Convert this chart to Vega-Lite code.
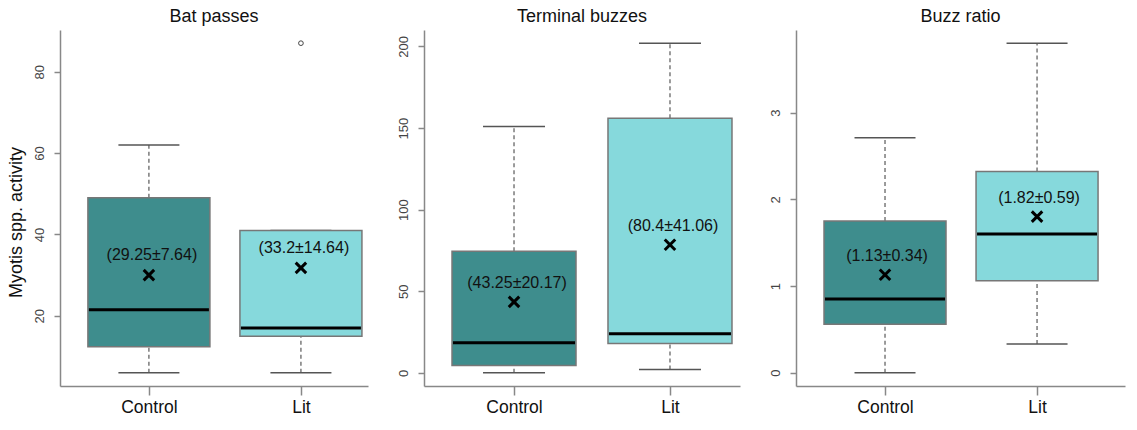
{
  "$schema": "https://vega.github.io/schema/vega-lite/v6.json",
  "padding": {"left": 6, "top": 8, "right": 5, "bottom": 5},
  "spacing": 29,
  "config": {
    "font": "Liberation Sans",
    "view": {"stroke": null},
    "axis": {"grid": false, "domainColor": "#888", "domainWidth": 1.5, "tickColor": "#888", "tickWidth": 1.5, "labelFont": "Liberation Sans", "titleFont": "Liberation Sans"},
    "title": {"font": "Liberation Sans", "fontSize": 18, "fontWeight": "normal", "color": "#111", "offset": 0}
  },
  "datasets": {
    "bat": [
      {"group": "Control", "min": 6, "q1": 12.4, "median": 21.5, "q3": 49, "max": 62, "mean": 30, "label": "(29.25±7.64)"},
      {"group": "Lit", "min": 6, "q1": 15, "median": 17, "q3": 41, "max": 41, "mean": 31.8, "label": "(33.2±14.64)"}
    ],
    "batOut": [
      {"group": "Lit", "value": 87}
    ],
    "buzz": [
      {"group": "Control", "min": 0, "q1": 4.5, "median": 18.5, "q3": 74.5, "max": 151, "mean": 43.5, "label": "(43.25±20.17)"},
      {"group": "Lit", "min": 2, "q1": 18, "median": 24, "q3": 156, "max": 202, "mean": 78.5, "label": "(80.4±41.06)"}
    ],
    "ratio": [
      {"group": "Control", "min": 0, "q1": 0.56, "median": 0.85, "q3": 1.75, "max": 2.71, "mean": 1.13, "label": "(1.13±0.34)"},
      {"group": "Lit", "min": 0.33, "q1": 1.06, "median": 1.6, "q3": 2.32, "max": 3.8, "mean": 1.8, "label": "(1.82±0.59)"}
    ]
  },
  "hconcat": [
    {
      "width": 308, "height": 356,
      "title": {"text": "Bat passes"},
      "encoding": {
        "x": {"field": "group", "type": "nominal", "sort": ["Control", "Lit"],
              "scale": {"type": "point", "padding": 0.513, "align": 0.57},
              "axis": {"title": null, "labelAngle": 0, "labelFontSize": 17.5, "labelColor": "#111", "tickSize": 9, "labelPadding": 3}}
      },
      "layer": [
        {"data": {"name": "bat"}, "mark": {"type": "rule", "color": "#666", "strokeDash": [4, 3], "strokeWidth": 1.3},
         "encoding": {"y": {"field": "q3", "type": "quantitative",
            "scale": {"domain": [2.76, 90.24], "nice": false, "zero": false},
            "axis": {"values": [20, 40, 60, 80], "format": "d", "labelAngle": -90, "labelFontSize": 13, "labelColor": "#444", "tickSize": 6, "labelPadding": 8,
                     "title": "Myotis spp. activity", "titleFontSize": 18, "titleFontWeight": "normal", "titleColor": "#111", "titlePadding": 8, "titleY": 192}},
            "y2": {"field": "max"}}},
        {"data": {"name": "bat"}, "mark": {"type": "rule", "color": "#666", "strokeDash": [4, 3], "strokeWidth": 1.3},
         "encoding": {"y": {"field": "min", "type": "quantitative"}, "y2": {"field": "q1"}}},
        {"data": {"name": "bat"}, "mark": {"type": "tick", "color": "#555", "size": 61, "thickness": 1.5, "opacity": 1},
         "encoding": {"y": {"field": "max", "type": "quantitative"}}},
        {"data": {"name": "bat"}, "mark": {"type": "tick", "color": "#555", "size": 61, "thickness": 1.5, "opacity": 1},
         "encoding": {"y": {"field": "min", "type": "quantitative"}}},
        {"data": {"name": "bat"}, "mark": {"type": "bar", "width": 122, "stroke": "#777", "strokeWidth": 1.5, "opacity": 1},
         "encoding": {"y": {"field": "q1", "type": "quantitative"}, "y2": {"field": "q3"},
            "fill": {"field": "group", "type": "nominal", "scale": {"domain": ["Control", "Lit"], "range": ["#3e8d8d", "#86d9dc"]}, "legend": null}}},
        {"data": {"name": "bat"}, "mark": {"type": "tick", "color": "#000", "size": 120, "thickness": 3, "opacity": 1},
         "encoding": {"y": {"field": "median", "type": "quantitative"}}},
        {"data": {"name": "bat"}, "mark": {"type": "point", "shape": "M-1,-1L1,1M-1,1L1,-1", "filled": false, "stroke": "#000", "strokeWidth": 3, "size": 110, "opacity": 1},
         "encoding": {"y": {"field": "mean", "type": "quantitative"}}},
        {"data": {"name": "bat"}, "mark": {"type": "text", "fontSize": 16, "color": "#111", "dy": -20, "dx": 3},
         "encoding": {"y": {"field": "mean", "type": "quantitative"}, "text": {"field": "label"}}},
        {"data": {"name": "batOut"}, "mark": {"type": "point", "shape": "circle", "filled": false, "stroke": "#444", "strokeWidth": 1, "size": 22, "opacity": 1},
         "encoding": {"y": {"field": "value", "type": "quantitative"}}}
      ]
    },
    {
      "width": 316, "height": 356,
      "title": {"text": "Terminal buzzes"},
      "encoding": {
        "x": {"field": "group", "type": "nominal", "sort": ["Control", "Lit"],
              "scale": {"type": "point", "padding": 0.513, "align": 0.5625},
              "axis": {"title": null, "labelAngle": 0, "labelFontSize": 17.5, "labelColor": "#111", "tickSize": 9, "labelPadding": 3}}
      },
      "layer": [
        {"data": {"name": "buzz"}, "mark": {"type": "rule", "color": "#666", "strokeDash": [4, 3], "strokeWidth": 1.3},
         "encoding": {"y": {"field": "q3", "type": "quantitative",
            "scale": {"domain": [-8.08, 210.08], "nice": false, "zero": false},
            "axis": {"values": [0, 50, 100, 150, 200], "format": "d", "labelAngle": -90, "labelFontSize": 13, "labelColor": "#444", "tickSize": 6, "labelPadding": 8, "title": null}},
            "y2": {"field": "max"}}},
        {"data": {"name": "buzz"}, "mark": {"type": "rule", "color": "#666", "strokeDash": [4, 3], "strokeWidth": 1.3},
         "encoding": {"y": {"field": "min", "type": "quantitative"}, "y2": {"field": "q1"}}},
        {"data": {"name": "buzz"}, "mark": {"type": "tick", "color": "#555", "size": 62, "thickness": 1.5, "opacity": 1},
         "encoding": {"y": {"field": "max", "type": "quantitative"}}},
        {"data": {"name": "buzz"}, "mark": {"type": "tick", "color": "#555", "size": 62, "thickness": 1.5, "opacity": 1},
         "encoding": {"y": {"field": "min", "type": "quantitative"}}},
        {"data": {"name": "buzz"}, "mark": {"type": "bar", "width": 124, "stroke": "#777", "strokeWidth": 1.5, "opacity": 1},
         "encoding": {"y": {"field": "q1", "type": "quantitative"}, "y2": {"field": "q3"},
            "fill": {"field": "group", "type": "nominal", "scale": {"domain": ["Control", "Lit"], "range": ["#3e8d8d", "#86d9dc"]}, "legend": null}}},
        {"data": {"name": "buzz"}, "mark": {"type": "tick", "color": "#000", "size": 122, "thickness": 3, "opacity": 1},
         "encoding": {"y": {"field": "median", "type": "quantitative"}}},
        {"data": {"name": "buzz"}, "mark": {"type": "point", "shape": "M-1,-1L1,1M-1,1L1,-1", "filled": false, "stroke": "#000", "strokeWidth": 3, "size": 110, "opacity": 1},
         "encoding": {"y": {"field": "mean", "type": "quantitative"}}},
        {"data": {"name": "buzz"}, "mark": {"type": "text", "fontSize": 16, "color": "#111", "dy": -19, "dx": 3},
         "encoding": {"y": {"field": "mean", "type": "quantitative"}, "text": {"field": "label"}}}
      ]
    },
    {
      "width": 329, "height": 356,
      "title": {"text": "Buzz ratio"},
      "encoding": {
        "x": {"field": "group", "type": "nominal", "sort": ["Control", "Lit"],
              "scale": {"type": "point", "padding": 0.582, "align": 0.503},
              "axis": {"title": null, "labelAngle": 0, "labelFontSize": 17.5, "labelColor": "#111", "tickSize": 9, "labelPadding": 3}}
      },
      "layer": [
        {"data": {"name": "ratio"}, "mark": {"type": "rule", "color": "#666", "strokeDash": [4, 3], "strokeWidth": 1.3},
         "encoding": {"y": {"field": "q3", "type": "quantitative",
            "scale": {"domain": [-0.153, 3.953], "nice": false, "zero": false},
            "axis": {"values": [0, 1, 2, 3], "format": "d", "labelAngle": -90, "labelFontSize": 13, "labelColor": "#444", "tickSize": 6, "labelPadding": 8, "title": null}},
            "y2": {"field": "max"}}},
        {"data": {"name": "ratio"}, "mark": {"type": "rule", "color": "#666", "strokeDash": [4, 3], "strokeWidth": 1.3},
         "encoding": {"y": {"field": "min", "type": "quantitative"}, "y2": {"field": "q1"}}},
        {"data": {"name": "ratio"}, "mark": {"type": "tick", "color": "#555", "size": 61, "thickness": 1.5, "opacity": 1},
         "encoding": {"y": {"field": "max", "type": "quantitative"}}},
        {"data": {"name": "ratio"}, "mark": {"type": "tick", "color": "#555", "size": 61, "thickness": 1.5, "opacity": 1},
         "encoding": {"y": {"field": "min", "type": "quantitative"}}},
        {"data": {"name": "ratio"}, "mark": {"type": "bar", "width": 122, "stroke": "#777", "strokeWidth": 1.5, "opacity": 1},
         "encoding": {"y": {"field": "q1", "type": "quantitative"}, "y2": {"field": "q3"},
            "fill": {"field": "group", "type": "nominal", "scale": {"domain": ["Control", "Lit"], "range": ["#3e8d8d", "#86d9dc"]}, "legend": null}}},
        {"data": {"name": "ratio"}, "mark": {"type": "tick", "color": "#000", "size": 120, "thickness": 3, "opacity": 1},
         "encoding": {"y": {"field": "median", "type": "quantitative"}}},
        {"data": {"name": "ratio"}, "mark": {"type": "point", "shape": "M-1,-1L1,1M-1,1L1,-1", "filled": false, "stroke": "#000", "strokeWidth": 3, "size": 110, "opacity": 1},
         "encoding": {"y": {"field": "mean", "type": "quantitative"}}},
        {"data": {"name": "ratio"}, "mark": {"type": "text", "fontSize": 16, "color": "#111", "dy": -19, "dx": 2},
         "encoding": {"y": {"field": "mean", "type": "quantitative"}, "text": {"field": "label"}}}
      ]
    }
  ],
  "resolve": {"scale": {"y": "independent", "x": "independent", "fill": "shared"}}
}
